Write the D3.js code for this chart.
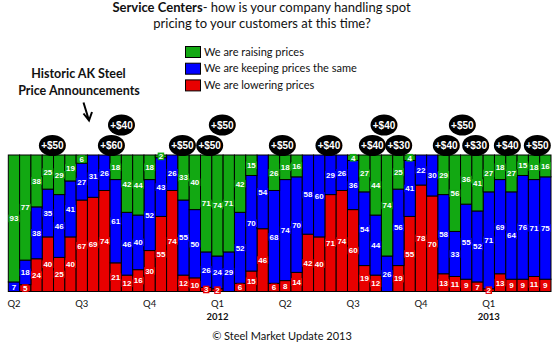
<!DOCTYPE html>
<html>
<head>
<meta charset="utf-8">
<script src="https://cdn.jsdelivr.net/npm/d3@7"></script>
<style>
  html, body { margin: 0; padding: 0; background: #fff; }
  svg { display: block; }
</style>
</head>
<body>
<svg id="chart" width="557" height="347"></svg>
<script>
// Survey share (%) per fortnightly reading, oldest first
const raising  = [93,77,38,25,29,19,6,0,0,18,42,44,18,2,0,33,40,71,74,71,42,15,0,26,18,16,0,0,0,0,4,27,44,74,25,4,0,0,29,56,36,41,27,18,27,15,18,16];
const keeping  = [7,18,38,35,46,41,27,31,26,61,46,40,52,43,26,55,50,26,24,29,52,70,54,68,74,70,58,60,29,26,36,54,44,26,56,41,22,30,58,33,55,52,71,69,64,76,71,75];
const lowering = [0,5,24,40,25,40,67,69,74,21,12,16,30,55,74,12,10,3,2,0,6,15,46,6,8,14,42,40,71,74,60,19,12,0,19,55,78,70,13,11,9,7,2,13,9,9,11,9];

// Quarter ticks: every sixth reading, with the year under the first quarter
const tickIndex  = [0, 6, 12, 18, 24, 30, 36, 42];
const tickLabels = ["Q2", "Q3", "Q4", "Q1", "Q2", "Q3", "Q4", "Q1"];
const tickYears  = ["", "", "", "2012", "", "", "", "2013"];

// AK Steel price announcements: label, position along the reading axis, stacking tier
const annLabels = ["+$50","+$60","+$40","+$50","+$50","+$50","+$50","+$40","+$40","+$40","+$30","+$40","+$50","+$30","+$40","+$50"];
const annPos    = [3.40, 8.62, 9.51, 14.9, 17.31, 18.43, 23.74, 27.86, 31.70, 32.73, 34.03, 38.24, 39.66, 40.84, 43.64, 46.29];
const annTier   = [0, 0, 1, 0, 0, 1, 0, 0, 0, 1, 0, 0, 1, 0, 0, 0];

const seriesNames  = ["We are raising prices", "We are keeping prices the same", "We are lowering prices"];
const seriesKeys   = ["raising", "keeping", "lowering"];
const seriesColors = { raising: "#12a812", keeping: "#0000ff", lowering: "#e80000" };

const rows = raising.map((v, i) => ({ i, raising: v, keeping: keeping[i], lowering: lowering[i] }));

const svg = d3.select("#chart");
const plot = { left: 8.3, right: 551, top: 155, bottom: 291.5 };

const x = d3.scaleBand().domain(d3.range(rows.length)).range([plot.left, plot.right]).padding(0);
const xPos = d3.scaleLinear().domain([0, rows.length]).range([plot.left, plot.right]);
const y = d3.scaleLinear().domain([0, 100]).range([plot.bottom, plot.top]);

// lowering at the base, then keeping, raising on top
const stack = d3.stack().keys(["lowering", "keeping", "raising"]);
const layers = stack(rows);

const font = "'Liberation Sans', Arial, sans-serif";
const titleFont = "Lato, 'Open Sans', sans-serif";

// Title
const title = svg.append("text")
  .attr("x", 261.5).attr("y", 11.5)
  .attr("text-anchor", "middle")
  .attr("font-family", titleFont).attr("font-size", 13).attr("fill", "#111");
title.append("tspan").attr("font-weight", "bold").text("Service Centers");
title.append("tspan").text("- how is your company handling spot");
svg.append("text")
  .attr("x", 262).attr("y", 27.5)
  .attr("text-anchor", "middle")
  .attr("font-family", titleFont).attr("font-size", 13).attr("fill", "#111")
  .text("pricing to your customers at this time?");

// Legend
const legend = svg.append("g").attr("transform", "translate(185,46)");
seriesKeys.forEach((k, j) => {
  const g = legend.append("g").attr("transform", `translate(0,${j * 16.7})`);
  g.append("rect").attr("x", 0.5).attr("y", 0.5).attr("width", 15).attr("height", 11)
    .attr("fill", seriesColors[k]).attr("stroke", "#000").attr("stroke-width", 1);
  g.append("text").attr("x", 19).attr("y", 9.5)
    .attr("font-family", titleFont).attr("font-size", 11).attr("fill", "#111")
    .text(seriesNames[j]);
});

// Side note with arrow
svg.append("text").attr("x", 78.5).attr("y", 78)
  .attr("text-anchor", "middle").attr("font-family", titleFont)
  .attr("font-weight", "bold").attr("font-size", 12.5).attr("fill", "#111")
  .text("Historic AK Steel");
svg.append("text").attr("x", 79).attr("y", 95)
  .attr("text-anchor", "middle").attr("font-family", titleFont)
  .attr("font-weight", "bold").attr("font-size", 12.5).attr("fill", "#111")
  .text("Price Announcements");
svg.append("path")
  .attr("d", "M83.5,102.5 L89,120.5 M83.5,113.5 L89,120.5 L92,112")
  .attr("fill", "none").attr("stroke", "#000").attr("stroke-width", 2)
  .attr("stroke-linejoin", "miter");

// Stacked bars
const barG = svg.append("g");
layers.forEach(layer => {
  barG.selectAll(null).data(layer).join("rect")
    .attr("x", d => x(d.data.i))
    .attr("width", x.bandwidth())
    .attr("y", d => y(d[1]))
    .attr("height", d => y(d[0]) - y(d[1]))
    .attr("fill", seriesColors[layer.key])
    .attr("stroke", "#000").attr("stroke-width", 1);
});

// Value labels, each on a box of its series colour
const labelG = svg.append("g");
layers.forEach(layer => {
  layer.forEach(d => {
    const v = d.data[layer.key];
    if (!v) return;
    const cx = x(d.data.i) + x.bandwidth() / 2;
    const cy = (y(d[0]) + y(d[1])) / 2;
    const txt = String(v);
    const w = txt.length * 4.5 + 2;
    labelG.append("rect")
      .attr("x", cx - w / 2).attr("y", cy - 3.8)
      .attr("width", w).attr("height", 7.6)
      .attr("fill", seriesColors[layer.key]);
    labelG.append("text")
      .attr("x", cx).attr("y", cy + 2.9)
      .attr("text-anchor", "middle")
      .attr("font-family", font).attr("font-weight", "bold").attr("font-size", 8)
      .attr("fill", "#fff")
      .text(txt);
  });
});

// Quarter axis labels
const axisG = svg.append("g");
tickIndex.forEach((ti, j) => {
  const cx = x(ti) + x.bandwidth() / 2;
  axisG.append("text").attr("x", cx).attr("y", 307)
    .attr("text-anchor", "middle").attr("font-family", titleFont)
    .attr("font-size", 9.5).attr("fill", "#111").text(tickLabels[j]);
  if (tickYears[j]) {
    axisG.append("text").attr("x", cx).attr("y", 319.5)
      .attr("text-anchor", "middle").attr("font-family", titleFont)
      .attr("font-weight", "bold").attr("font-size", 9.5).attr("fill", "#111").text(tickYears[j]);
  }
});

// Price announcement bubbles
const annG = svg.append("g");
annLabels.forEach((lab, j) => {
  const cx = xPos(annPos[j] + 0.5);
  const cy = annTier[j] ? 125 : 145.5;
  annG.append("ellipse").attr("cx", cx).attr("cy", cy).attr("rx", 13.5).attr("ry", 10.5).attr("fill", "#000");
  annG.append("text").attr("x", cx).attr("y", cy + 3.6)
    .attr("text-anchor", "middle").attr("font-family", font)
    .attr("font-weight", "bold").attr("font-size", 10).attr("fill", "#fff").text(lab);
});

// Footer
svg.append("text").attr("x", 282).attr("y", 340)
  .attr("text-anchor", "middle").attr("font-family", titleFont)
  .attr("font-size", 11).attr("fill", "#111")
  .text("\u00a9 Steel Market Update 2013");
</script>
</body>
</html>
